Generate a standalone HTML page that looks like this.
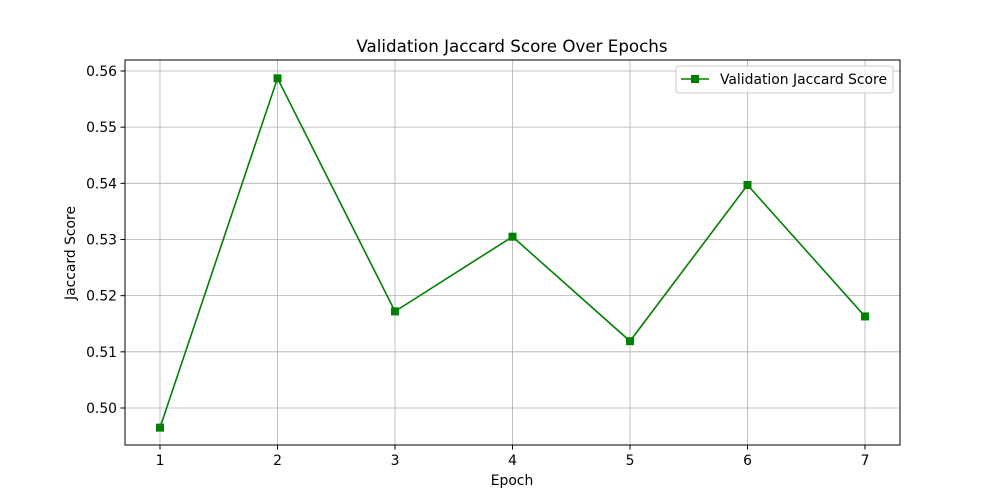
<!DOCTYPE html>
<html><head><meta charset="utf-8"><style>
html,body{margin:0;padding:0;background:#fff;}
svg{display:block;font-family:"DejaVu Sans","Liberation Sans",sans-serif;}
</style></head><body>
<svg id="chart" width="1000" height="500" viewBox="0 0 1000 500">
<rect width="1000" height="500" fill="#fff"/>
<text x="512" y="52" text-anchor="middle" font-size="16.7">Validation Jaccard Score Over Epochs</text>
<g id="grid"></g>
<g id="ticks"></g>
<g id="series"></g>
<rect x="125" y="60" width="775" height="385" fill="none" stroke="#000" stroke-width="1"/>
<text x="512" y="485" text-anchor="middle" font-size="13.9">Epoch</text>
<text x="75" y="253" text-anchor="middle" font-size="13.9" transform="rotate(-90 75 253)">Jaccard Score</text>
<g>
<rect x="676" y="66" width="217" height="27" rx="3" fill="#fff" fill-opacity="0.8" stroke="#ccc"/>
<line x1="681" y1="79" x2="709" y2="79" stroke="#008000" stroke-width="1.5"/>
<rect x="691" y="75" width="8" height="8" fill="#008000"/>
<text x="720" y="84" font-size="13.9">Validation Jaccard Score</text>
</g>
</svg>
<script>
const epochs = [1,2,3,4,5,6,7];
const scores = [0.4965,0.5587,0.5172,0.5305,0.5119,0.5397,0.5163];
const yTicks = [0.50,0.51,0.52,0.53,0.54,0.55,0.56];
const yTickLabels = ["0.50","0.51","0.52","0.53","0.54","0.55","0.56"];
const NS="http://www.w3.org/2000/svg";
function xs(v){return 160+(v-1)*117.5;}
function ys(v){return 408-(v-0.5)*5617;}
function mk(tag,attrs,parent){const e=document.createElementNS(NS,tag);for(const k in attrs)e.setAttribute(k,attrs[k]);parent.appendChild(e);return e;}
const grid=document.getElementById('grid'),ticks=document.getElementById('ticks'),series=document.getElementById('series');
epochs.forEach(e=>{
  const x=xs(e);
  const g=mk('line',{x1:x,y1:60,x2:x,y2:445,stroke:'#b0b0b0','stroke-width':0.8},grid);
  
  
  mk('line',{x1:x,y1:445,x2:x,y2:449.5,stroke:'#000'},ticks);
  const t=mk('text',{x:x,y:465,'text-anchor':'middle','font-size':13.9},ticks);
  t.textContent=String(e);
  
  
});
yTicks.forEach((v,i)=>{
  const y=ys(v);
  const g=mk('line',{x1:125,y1:y,x2:900,y2:y,stroke:'#b0b0b0','stroke-width':0.8},grid);
  
  
  mk('line',{x1:120.5,y1:y,x2:125,y2:y,stroke:'#000'},ticks);
  const t=mk('text',{x:117,y:y+5,'text-anchor':'end','font-size':13.9},ticks);
  t.textContent=yTickLabels[i];
  
  
});
const pts=epochs.map((e,i)=>xs(e)+','+ys(scores[i])).join(' ');
const line=mk('polyline',{points:pts,fill:'none',stroke:'#008000','stroke-width':1.6},series);


epochs.forEach((e,i)=>{
  const m=mk('rect',{x:xs(e)-4,y:ys(scores[i])-4,width:8,height:8,fill:'#008000'},series);
  
  
});
</script>
</body></html>
